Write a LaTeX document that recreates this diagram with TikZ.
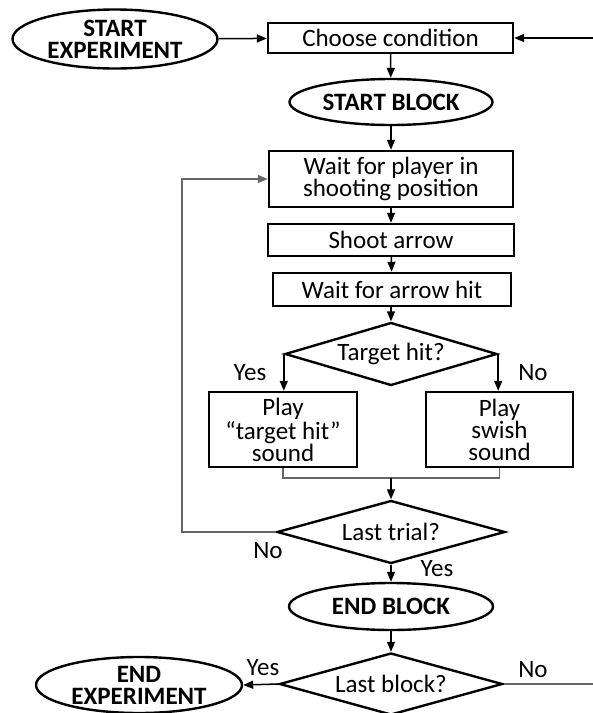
\documentclass[tikz,border=0pt]{standalone}
\usepackage{fontspec}
\setmainfont{Carlito}
\usetikzlibrary{shapes.geometric,arrows.meta}
\tikzset{
  every node/.style={font=\fontsize{12.5}{11}\selectfont, align=center, inner sep=0pt},
  procbox/.style={draw, line width=1.2pt, rectangle},
  termnode/.style={draw, line width=1.2pt, ellipse, font=\fontsize{12.5}{11}\selectfont\bfseries},
  decnode/.style={draw, line width=1.2pt, diamond, aspect=3.5},
  flow/.style={line width=0.75pt, -{Triangle[length=5pt,width=4pt]}},
  joinline/.style={line width=0.75pt, draw=black!60},
}
\begin{document}
\begin{tikzpicture}[x=0.5pt, y=-0.5pt]
\useasboundingbox (0,0) rectangle (593,713);
% terminals and steps
\node[termnode, minimum width=102.5pt, minimum height=29.5pt] (startexp) at (115,39) {START\\EXPERIMENT};
\node[procbox, minimum width=122.5pt, minimum height=15pt] (choose) at (390.5,38) {Choose condition};
\node[termnode, minimum width=101.5pt, minimum height=23pt] (startblk) at (391,102) {START BLOCK};
\node[procbox, minimum width=122pt, minimum height=28pt] (waitplayer) at (391,179) {Wait for player in\\shooting position};
\node[procbox, minimum width=123pt, minimum height=16pt] (shoot) at (391,240) {Shoot arrow};
\node[procbox, minimum width=119pt, minimum height=16.5pt] (waithit) at (392,289.5) {Wait for arrow hit};
\node[decnode, minimum width=106pt, minimum height=31.5pt] (targethit) at (391,354) {Target hit?};
\node[procbox, minimum width=74pt, minimum height=37.5pt] (playhit) at (283,429.5) {Play\\``target hit''\\sound};
\node[procbox, minimum width=73.5pt, minimum height=37.5pt] (playswish) at (499.5,429.5) {Play\\swish\\sound};
\coordinate (merge) at (391,478);
\node[decnode, minimum width=114pt, minimum height=31.5pt] (lasttrial) at (391,532) {Last trial?};
\node[termnode, minimum width=102pt, minimum height=23.5pt] (endblk) at (391,606.5) {END BLOCK};
\node[decnode, minimum width=111.5pt, minimum height=31pt] (lastblk) at (391,684) {Last block?};
\node[termnode, minimum width=103pt, minimum height=28pt] (endexp) at (139,685) {END\\EXPERIMENT};
\coordinate (rightin) at (593,38);
\coordinate (rightout) at (593,684);
\coordinate (loopleft) at (182,532);
% labels
\node (yeshit) at (250,373) {Yes};
\node (nohit) at (533,373) {No};
\node (notrial) at (268,551) {No};
\node (yestrial) at (437,569) {Yes};
\node (yesblk) at (263,668) {Yes};
\node (noblk) at (533,670) {No};
% connectors
\draw[flow] (startexp) -- (choose);
\draw[flow] (rightin) -- (choose.east);
\draw[flow] (choose) -- (startblk);
\draw[flow] (startblk) -- (waitplayer);
\draw[flow] (waitplayer) -- (shoot);
\draw[flow] (shoot) -- (waithit);
\draw[flow] (waithit.south -| targethit.north) -- (targethit.north);
\draw[flow] (targethit.west) -- (targethit.west |- playhit.north);
\draw[flow] (targethit.east) -- (targethit.east |- playswish.north);
\draw[joinline] (playhit.south) |- (merge) -| (playswish.south);
\draw[flow] (merge) -- (lasttrial.north);
\draw[joinline, -{Triangle[length=5pt,width=4pt]}] (lasttrial.west) -- (loopleft) |- (waitplayer.west);
\draw[flow] (lasttrial) -- (endblk);
\draw[flow] (endblk) -- (lastblk);
\draw[flow] (lastblk.west) -- (endexp.east);
\draw[joinline] (lastblk.east) -- (rightout);
\end{tikzpicture}
\end{document}
